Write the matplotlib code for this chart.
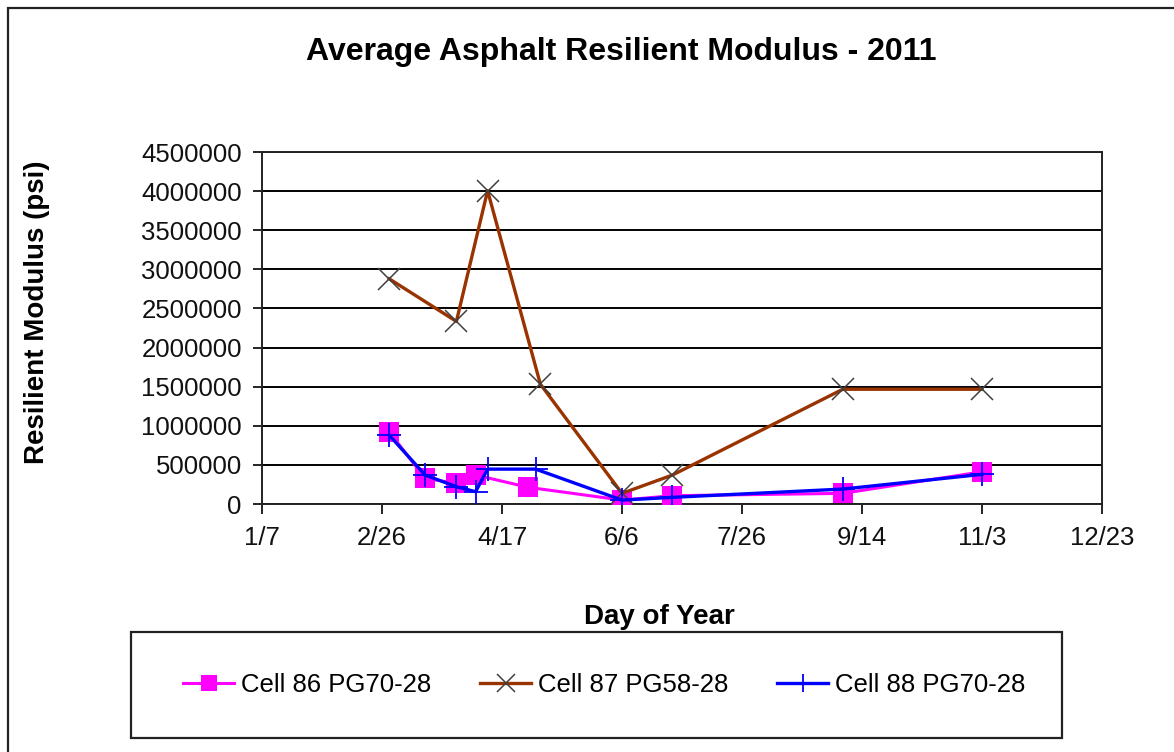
import numpy as np
import pandas as pd
import matplotlib
matplotlib.use("Agg")
import matplotlib.pyplot as plt
from matplotlib.patches import Rectangle

plt.rcParams['font.family'] = ['Liberation Sans', 'DejaVu Sans']

# data
dates_86 = ["2011-03-01", "2011-03-16", "2011-03-29", "2011-04-06", "2011-04-28",
            "2011-06-06", "2011-06-27", "2011-09-06", "2011-11-03"]
vals_86 = [922000, 328000, 264000, 370000, 213000, 50000, 106000, 136000, 412000]

dates_87 = ["2011-03-01", "2011-03-29", "2011-04-11", "2011-05-03",
            "2011-06-06", "2011-06-27", "2011-09-06", "2011-11-03"]
vals_87 = [2879000, 2334000, 4005000, 1531000, 136000, 370000, 1467000, 1467000]

dates_88 = ["2011-03-01", "2011-03-16", "2011-03-29", "2011-04-06", "2011-04-11",
            "2011-05-01", "2011-06-06", "2011-06-27", "2011-09-06", "2011-11-03"]
vals_88 = [880000, 370000, 221000, 157000, 446000, 446000, 50000, 85000, 191000, 379000]

labels = ["Cell 86 PG70-28", "Cell 87 PG58-28", "Cell 88 PG70-28"]
y_ticks = np.arange(0, 4500001, 500000)
x_ticks = pd.date_range("2011-01-07", periods=8, freq="50D")

W, H = 1174, 752
fig = plt.figure(figsize=(W / 100, H / 100), dpi=100)


def fx(px):
    return px / W


def fy(py):
    return 1 - py / H


# outer chart frame (left/top visible, rest runs off the image)
fig.patches.append(Rectangle((fx(8), -0.1), 1.2, fy(8) + 0.1, transform=fig.transFigure,
                             fill=False, edgecolor='#222222', linewidth=1.6))

ax = fig.add_axes([fx(262), fy(504), fx(1102) - fx(262), fy(152) - fy(504)])

ax.plot(pd.to_datetime(dates_86), vals_86, color='#FF00FF', linewidth=2.2,
        marker='s', markersize=14, markeredgewidth=0, label=labels[0], zorder=3)
ax.plot(pd.to_datetime(dates_87), vals_87, color='#993300', linewidth=2.4,
        marker='x', markersize=16, markeredgecolor='#404040', markeredgewidth=1.1,
        label=labels[1], zorder=4)
ax.plot(pd.to_datetime(dates_88), vals_88, color='#0000FF', linewidth=2.4,
        marker='+', markersize=17, markeredgewidth=1.3, label=labels[2], zorder=5)

ax.set_xlim(x_ticks[0], x_ticks[-1])
ax.set_ylim(0, 4500000)
ax.set_xticks(x_ticks)
ax.set_xticklabels([f"{d.month}/{d.day}" for d in x_ticks])
ax.set_yticks(y_ticks)
ax.set_yticklabels([str(v) for v in y_ticks])

ax.yaxis.grid(True, color='black', linewidth=1.4)
ax.set_axisbelow(True)
for side in ['left', 'bottom', 'top', 'right']:
    ax.spines[side].set_color('#222222')
    ax.spines[side].set_linewidth(1.4)
ax.tick_params(axis='y', direction='out', length=6.5, width=1.2, pad=8, labelsize=18.5,
               labelcolor='#111111')
ax.tick_params(axis='x', direction='out', length=7, width=1.2, pad=9, labelsize=18.5,
               labelcolor='#111111')

fig.text(fx(621), fy(52), "Average Asphalt Resilient Modulus - 2011", ha='center', va='center',
         fontsize=23, fontweight='bold')
fig.text(fx(37), fy(312), "Resilient Modulus (psi)", ha='center', va='center', rotation=90,
         fontsize=20, fontweight='bold')
fig.text(fx(659), fy(617), "Day of Year", ha='center', va='center',
         fontsize=20, fontweight='bold')

# legend box
fig.patches.append(Rectangle((fx(131), fy(738)), fx(1062) - fx(131), fy(632) - fy(738),
                             transform=fig.transFigure, fill=False, edgecolor='#222222',
                             linewidth=1.6))
handles, lbls = ax.get_legend_handles_labels()
fig.legend(handles, lbls, loc='center', bbox_to_anchor=(fx(604), fy(685)), ncol=3,
           frameon=False, fontsize=18.5, handlelength=2.0, handletextpad=0.25,
           columnspacing=1.9, markerscale=0.8)

fig.savefig("out.png", dpi=100)
